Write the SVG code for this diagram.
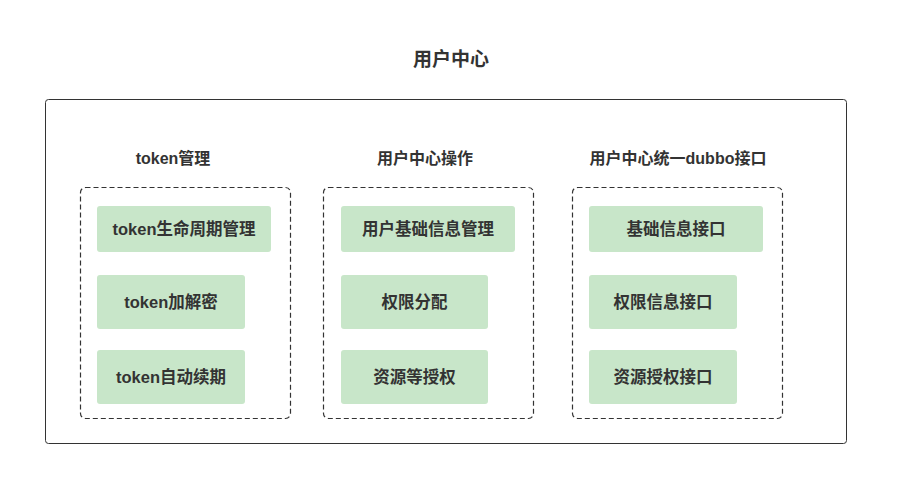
<svg xmlns="http://www.w3.org/2000/svg" width="897" height="479" viewBox="0 0 897 479">
<style>
text{font-family:"Liberation Sans","Noto Sans CJK SC",sans-serif;fill:#333;font-weight:bold;text-anchor:middle;dominant-baseline:central}
.t{font-size:19px}
.h{font-size:16px}
.i{font-size:16.5px}
.outer{fill:#fff;stroke:#333;stroke-width:1}
.grp{fill:none;stroke:#333;stroke-width:1.2;stroke-dasharray:5 3}
.item{fill:#c8e6c9;stroke:none}
</style>
<rect width="897" height="479" fill="#fff"/>
<g id="title"><text class="t" x="451" y="59">用户中心</text></g>
<g id="outer"><rect class="outer" x="45.5" y="99.5" width="801" height="344" rx="3"/></g>
<g id="col1">
<text class="h" x="173" y="158">token管理</text>
<rect class="grp" x="80.5" y="187.5" width="210" height="231" rx="5"/>
</g>
<g id="col2">
<text class="h" x="425" y="158">用户中心操作</text>
<rect class="grp" x="323.5" y="187.5" width="210" height="231" rx="5"/>
</g>
<g id="col3">
<text class="h" x="678" y="158">用户中心统一dubbo接口</text>
<rect class="grp" x="572.5" y="187.5" width="210" height="231" rx="5"/>
</g>
<g id="n1"><rect class="item" x="97" y="206" width="174" height="46" rx="3"/><text class="i" x="184" y="229">token生命周期管理</text></g>
<g id="n2"><rect class="item" x="97" y="275" width="148" height="54" rx="3"/><text class="i" x="171" y="302">token加解密</text></g>
<g id="n3"><rect class="item" x="97" y="350" width="148" height="54" rx="3"/><text class="i" x="171" y="377">token自动续期</text></g>
<g id="n4"><rect class="item" x="341" y="206" width="174" height="46" rx="3"/><text class="i" x="428" y="229">用户基础信息管理</text></g>
<g id="n5"><rect class="item" x="341" y="275" width="147" height="54" rx="3"/><text class="i" x="414.5" y="302">权限分配</text></g>
<g id="n6"><rect class="item" x="341" y="350" width="147" height="54" rx="3"/><text class="i" x="414.5" y="377">资源等授权</text></g>
<g id="n7"><rect class="item" x="589" y="206" width="174" height="46" rx="3"/><text class="i" x="676" y="229">基础信息接口</text></g>
<g id="n8"><rect class="item" x="589" y="275" width="148" height="54" rx="3"/><text class="i" x="663" y="302">权限信息接口</text></g>
<g id="n9"><rect class="item" x="589" y="350" width="148" height="54" rx="3"/><text class="i" x="663" y="377">资源授权接口</text></g>
<g id="connectors"></g>
</svg>
